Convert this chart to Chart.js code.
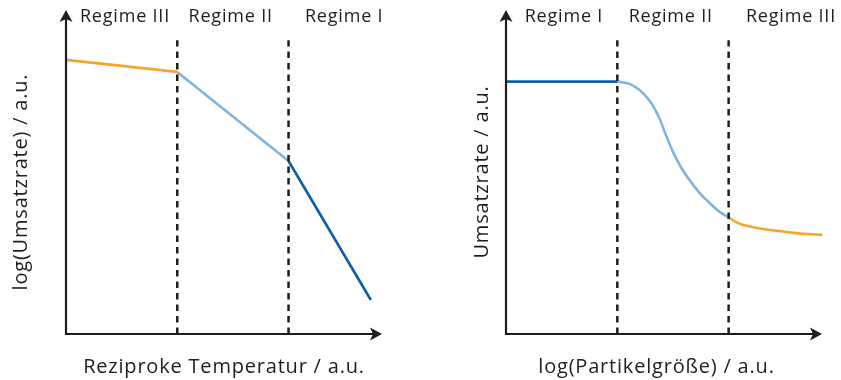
<!DOCTYPE html>
<html>
<head>
<meta charset="utf-8">
<script src="https://cdn.jsdelivr.net/npm/chart.js@4/dist/chart.umd.min.js"></script>
<style>
  html, body { margin: 0; padding: 0; background: #ffffff; }
  #wrap { position: relative; width: 841px; height: 380px; }
  .panel { position: absolute; top: 0; }
  #left { left: 0; }
  #right { left: 420px; }
</style>
</head>
<body>
<div id="wrap">
  <canvas id="left" class="panel" width="420" height="380"></canvas>
  <canvas id="right" class="panel" width="421" height="380"></canvas>
</div>
<script>
// ---- Left panel: log(rate) vs. reciprocal temperature ----
const leftRegimeNames   = ['Regime III', 'Regime II', 'Regime I'];
const leftRegimeCenters = [0.53, 1.48, 2.50];
const leftBoundaries    = [1.0, 2.0];
const leftRegime3 = [{x: 0.00, y: 8.46}, {x: 1.00, y: 8.09}];
const leftRegime2 = [{x: 1.00, y: 8.09}, {x: 2.00, y: 5.34}];
const leftRegime1 = [{x: 2.00, y: 5.34}, {x: 2.74, y: 1.05}];

// ---- Right panel: rate vs. log(particle size) ----
const rightRegimeNames   = ['Regime I', 'Regime II', 'Regime III'];
const rightRegimeCenters = [0.52, 1.48, 2.56];
const rightBoundaries    = [1.0, 2.0];
const rightRegime1 = [{x: 0.00, y: 7.79}, {x: 1.00, y: 7.79}];
const rightRegime2 = [
  {x: 1.00, y: 7.79}, {x: 1.11, y: 7.72}, {x: 1.20, y: 7.53}, {x: 1.29, y: 7.20},
  {x: 1.37, y: 6.72}, {x: 1.43, y: 6.20}, {x: 1.50, y: 5.62}, {x: 1.58, y: 5.10},
  {x: 1.66, y: 4.70}, {x: 1.74, y: 4.35}, {x: 1.83, y: 4.04}, {x: 1.92, y: 3.77},
  {x: 2.00, y: 3.60}
];
const rightRegime3 = [
  {x: 2.00, y: 3.60}, {x: 2.08, y: 3.43}, {x: 2.17, y: 3.33}, {x: 2.31, y: 3.24},
  {x: 2.52, y: 3.15}, {x: 2.67, y: 3.09}, {x: 2.84, y: 3.06}
];

const dividerTop = 9.07;

const COLORS = {
  orange: '#f6a52b',
  light:  '#7db4e3',
  dark:   '#0f5ca8',
  ink:    '#1e1e1e'
};
const FONT = '"Open Sans", Lato, sans-serif';
const LETTER_SPACING = '0.8px';

// Slightly looser text for every label on the canvas
const textSpacing = {
  id: 'textSpacing',
  beforeDraw(chart) {
    chart.ctx.letterSpacing = LETTER_SPACING;
  }
};

// Axis lines with arrow heads, drawn from the scale origins
const axisArrows = {
  id: 'axisArrows',
  afterDatasetsDraw(chart, args, opts) {
    const {ctx, chartArea, scales: {x, y}} = chart;
    const ox = x.getPixelForValue(x.min);
    const oy = y.getPixelForValue(y.min);
    const xEnd = chartArea.right + (opts.extendX || 0);
    const yEnd = chartArea.top - (opts.extendY || 0);
    const L = 12, W = 6.5, notch = 3;
    ctx.save();
    ctx.strokeStyle = COLORS.ink;
    ctx.fillStyle = COLORS.ink;
    ctx.lineWidth = 2.2;
    ctx.lineCap = 'butt';
    ctx.beginPath();
    ctx.moveTo(ox, yEnd + L - notch);
    ctx.lineTo(ox, oy);
    ctx.lineTo(xEnd - L + notch, oy);
    ctx.stroke();
    // x arrow head
    ctx.beginPath();
    ctx.moveTo(xEnd, oy);
    ctx.lineTo(xEnd - L, oy - W);
    ctx.lineTo(xEnd - L + notch, oy);
    ctx.lineTo(xEnd - L, oy + W);
    ctx.closePath();
    ctx.fill();
    // y arrow head
    ctx.beginPath();
    ctx.moveTo(ox, yEnd);
    ctx.lineTo(ox - W, yEnd + L);
    ctx.lineTo(ox, yEnd + L - notch);
    ctx.lineTo(ox + W, yEnd + L);
    ctx.closePath();
    ctx.fill();
    ctx.restore();
  }
};

// Regime names written above the plotting area
const regimeLabels = {
  id: 'regimeLabels',
  afterDraw(chart, args, opts) {
    const {ctx, scales: {x}} = chart;
    ctx.save();
    ctx.font = opts.font;
    ctx.fillStyle = COLORS.ink;
    ctx.textAlign = 'center';
    ctx.textBaseline = 'middle';
    opts.names.forEach((name, i) => {
      ctx.fillText(name, x.getPixelForValue(opts.centers[i]), opts.y);
    });
    ctx.restore();
  }
};

function lineSet(data, color, smooth) {
  return {
    data,
    borderColor: color,
    borderWidth: 2.6,
    pointRadius: 0,
    fill: false,
    clip: false,
    tension: smooth ? 0.4 : 0
  };
}

function dividerSet(xv) {
  return {
    data: [{x: xv, y: 0}, {x: xv, y: dividerTop}],
    borderColor: COLORS.ink,
    borderWidth: 2.5,
    borderDash: [6.5, 5],
    pointRadius: 0,
    fill: false,
    clip: false
  };
}

function makePanel(canvasId, cfg) {
  return new Chart(document.getElementById(canvasId), {
    type: 'line',
    data: { datasets: cfg.datasets },
    options: {
      responsive: false,
      animation: false,
      devicePixelRatio: 1,
      layout: { padding: cfg.padding },
      plugins: {
        legend: { display: false },
        tooltip: { enabled: false },
        axisArrows: { extendX: cfg.extendX, extendY: cfg.extendY },
        regimeLabels: {
          names: cfg.names, centers: cfg.centers, y: 17,
          font: '18px ' + FONT
        }
      },
      scales: {
        x: {
          type: 'linear',
          min: 0, max: cfg.xMax,
          grid: { display: false, drawTicks: false },
          border: { display: false },
          ticks: { display: false },
          title: {
            display: true, text: cfg.xTitle, color: COLORS.ink,
            font: { family: FONT, size: 20, weight: 'normal' },
            padding: { top: 21, bottom: 1 }
          }
        },
        y: {
          type: 'linear',
          min: 0, max: cfg.yMax,
          grid: { display: false, drawTicks: false },
          border: { display: false },
          ticks: { display: false },
          title: {
            display: true, text: cfg.yTitle, color: COLORS.ink,
            font: { family: FONT, size: 20, weight: 'normal' },
            padding: cfg.yTitlePad
          }
        }
      }
    },
    plugins: [textSpacing, axisArrows, regimeLabels]
  });
}

makePanel('left', {
  datasets: [
    ...leftBoundaries.map(dividerSet),
    lineSet(leftRegime3, COLORS.orange, false),
    lineSet(leftRegime2, COLORS.light, false),
    lineSet(leftRegime1, COLORS.dark, false)
  ],
  names: leftRegimeNames,
  centers: leftRegimeCenters,
  xTitle: 'Reziproke Temperatur / a.u.',
  yTitle: 'log(Umsatzrate) / a.u.',
  xMax: 2.84, yMax: 9.383,
  padding: { top: 30, right: 38, bottom: 0, left: 0 },
  yTitlePad: { top: 9, bottom: 33 },
  extendX: 0, extendY: 20
});

makePanel('right', {
  datasets: [
    ...rightBoundaries.map(dividerSet),
    lineSet(rightRegime1, COLORS.dark, false),
    lineSet(rightRegime2, COLORS.light, true),
    lineSet(rightRegime3, COLORS.orange, true)
  ],
  names: rightRegimeNames,
  centers: rightRegimeCenters,
  xTitle: 'log(Partikelgröße) / a.u.',
  yTitle: 'Umsatzrate / a.u.',
  xMax: 2.704, yMax: 10,
  padding: { top: 10, right: 34, bottom: 0, left: 0 },
  yTitlePad: { top: 50, bottom: 12 },
  extendX: 15, extendY: 0
});
</script>
</body>
</html>
